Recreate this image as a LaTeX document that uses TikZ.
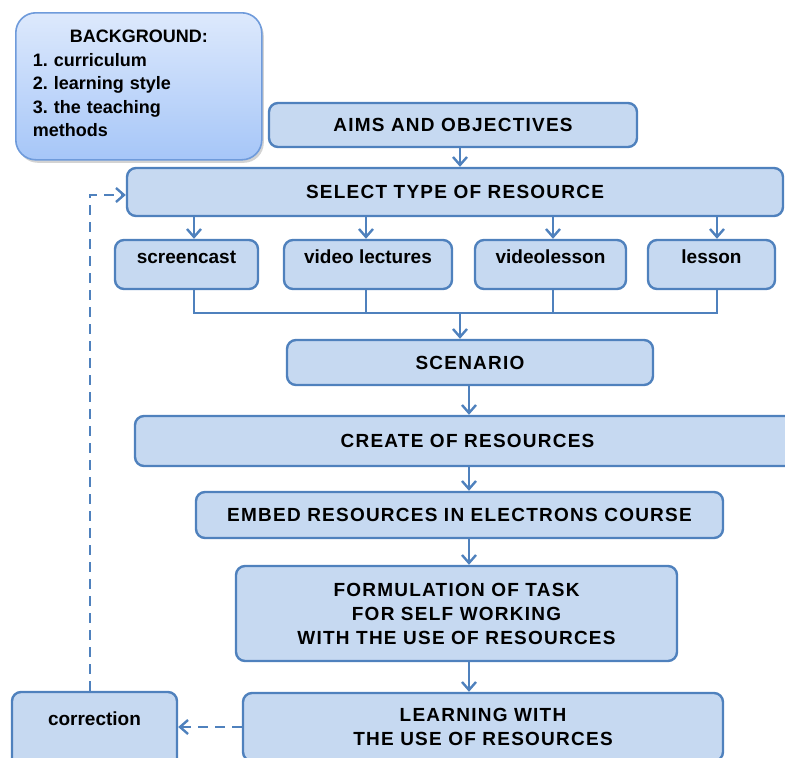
\documentclass[tikz,border=0pt]{standalone}
\usepackage{fontspec}
\setmainfont{Liberation Sans}
\newfontfamily\spaced{Liberation Sans}[LetterSpace=6.5]
\usetikzlibrary{arrows.meta,shadows}

\definecolor{boxfill}{HTML}{C6D9F1}
\definecolor{boxline}{HTML}{4F81BD}
\definecolor{bgtop}{HTML}{DDE9FC}
\definecolor{bgbot}{HTML}{A6C6F8}
\definecolor{bgline}{HTML}{6F9BDB}

\tikzset{
  box/.style={draw=boxline, fill=boxfill, line width=2.4pt, rounded corners=9pt,
    inner sep=0pt, align=center, font=\spaced\bfseries\fontsize{19}{24}\selectfont},
  sub/.style={box, font=\bfseries\fontsize{19}{24}\selectfont, text height=14pt, text depth=17pt},
  wire/.style={draw=boxline, line width=2.4pt},
  arr/.style={wire, -{Straight Barb[length=8pt,width=14pt]}},
  dasharr/.style={arr, dash pattern=on 10pt off 7pt},
}

\begin{document}
\begin{tikzpicture}[x=1pt, y=-1pt]
\useasboundingbox (0,0) rectangle (785,758);
% background box
\node[draw=bgline, line width=1.6pt, rounded corners=20pt, top color=bgtop, bottom color=bgbot,
  drop shadow={shadow xshift=2pt, shadow yshift=-3pt, opacity=0.35},
  anchor=north west, minimum width=246pt, minimum height=147pt, inner xsep=17pt,
  text width=212pt, align=left, font=\bfseries\frenchspacing\fontsize{18}{23.5}\selectfont]
  (bg) at (15,12) {\makebox[\hsize]{BACKGROUND:}\\1. curriculum\\2. learning style\\3. the teaching\\methods\rule[-6pt]{0pt}{6pt}};
% main column
\node[box, minimum width=368pt, minimum height=44pt] (aims) at (453,125) {AIMS AND OBJECTIVES};
\node[box, minimum width=656pt, minimum height=48pt] (sel) at (455,192) {SELECT TYPE OF RESOURCE};
\node[sub, minimum width=143pt, minimum height=49pt] (sc) at (186.5,264.5) {screencast};
\node[sub, minimum width=168pt, minimum height=49pt] (vl) at (368,264.5) {video lectures};
\node[sub, minimum width=151pt, minimum height=49pt] (vls) at (550.5,264.5) {videolesson};
\node[sub, minimum width=127pt, minimum height=49pt] (les) at (711.5,264.5) {lesson};
\node[box, minimum width=366pt, minimum height=45pt] (scen) at (470,362.5) {SCENARIO};
\node[box, minimum width=665pt, minimum height=50pt] (create) at (467.5,441) {CREATE OF RESOURCES};
\node[box, minimum width=527pt, minimum height=46pt] (embed) at (459.5,515) {EMBED RESOURCES IN ELECTRONS COURSE};
\node[box, minimum width=441pt, minimum height=95pt] (form) at (456.5,613.5) {FORMULATION OF TASK\\FOR SELF WORKING\\WITH THE USE OF RESOURCES};
\node[box, minimum width=480pt, minimum height=68pt] (learn) at (483,727) {LEARNING WITH\\THE USE OF RESOURCES};
\node[sub, minimum width=165pt, minimum height=98pt, text depth=46pt] (corr) at (94.5,741) {correction};
% connectors
\coordinate (bus) at (460,313);
\coordinate (spine) at (469,0);
\draw[arr] (aims.south -| bus) -- (sel.north -| bus);
\foreach \b/\s in {sc/7.5, vl/-2, vls/2.5, les/5.5}
  \draw[arr] ([xshift=\s pt]\b.north |- sel.south) -- ([xshift=\s pt]\b.north);
\draw[wire] ([xshift=7.5pt]sc.south) |- (bus) -| ([xshift=5.5pt]les.south);
\foreach \b/\s in {vl/-2, vls/2.5}
  \draw[wire] ([xshift=\s pt]\b.south) -- ([xshift=\s pt]\b.south |- bus);
\draw[arr] (bus) -- (bus |- scen.north);
\draw[arr] (scen.south -| spine) -- (create.north -| spine);
\draw[arr] (create.south -| spine) -- (embed.north -| spine);
\draw[arr] (embed.south -| spine) -- (form.north -| spine);
\draw[arr] (form.south -| spine) -- (learn.north -| spine);
% feedback loop
\draw[dasharr] (learn.west) -- (learn.west -| corr.east);
\draw[dasharr] ([xshift=-4.5pt]corr.north) |- ([yshift=-3pt]sel.west);
\end{tikzpicture}
\end{document}
